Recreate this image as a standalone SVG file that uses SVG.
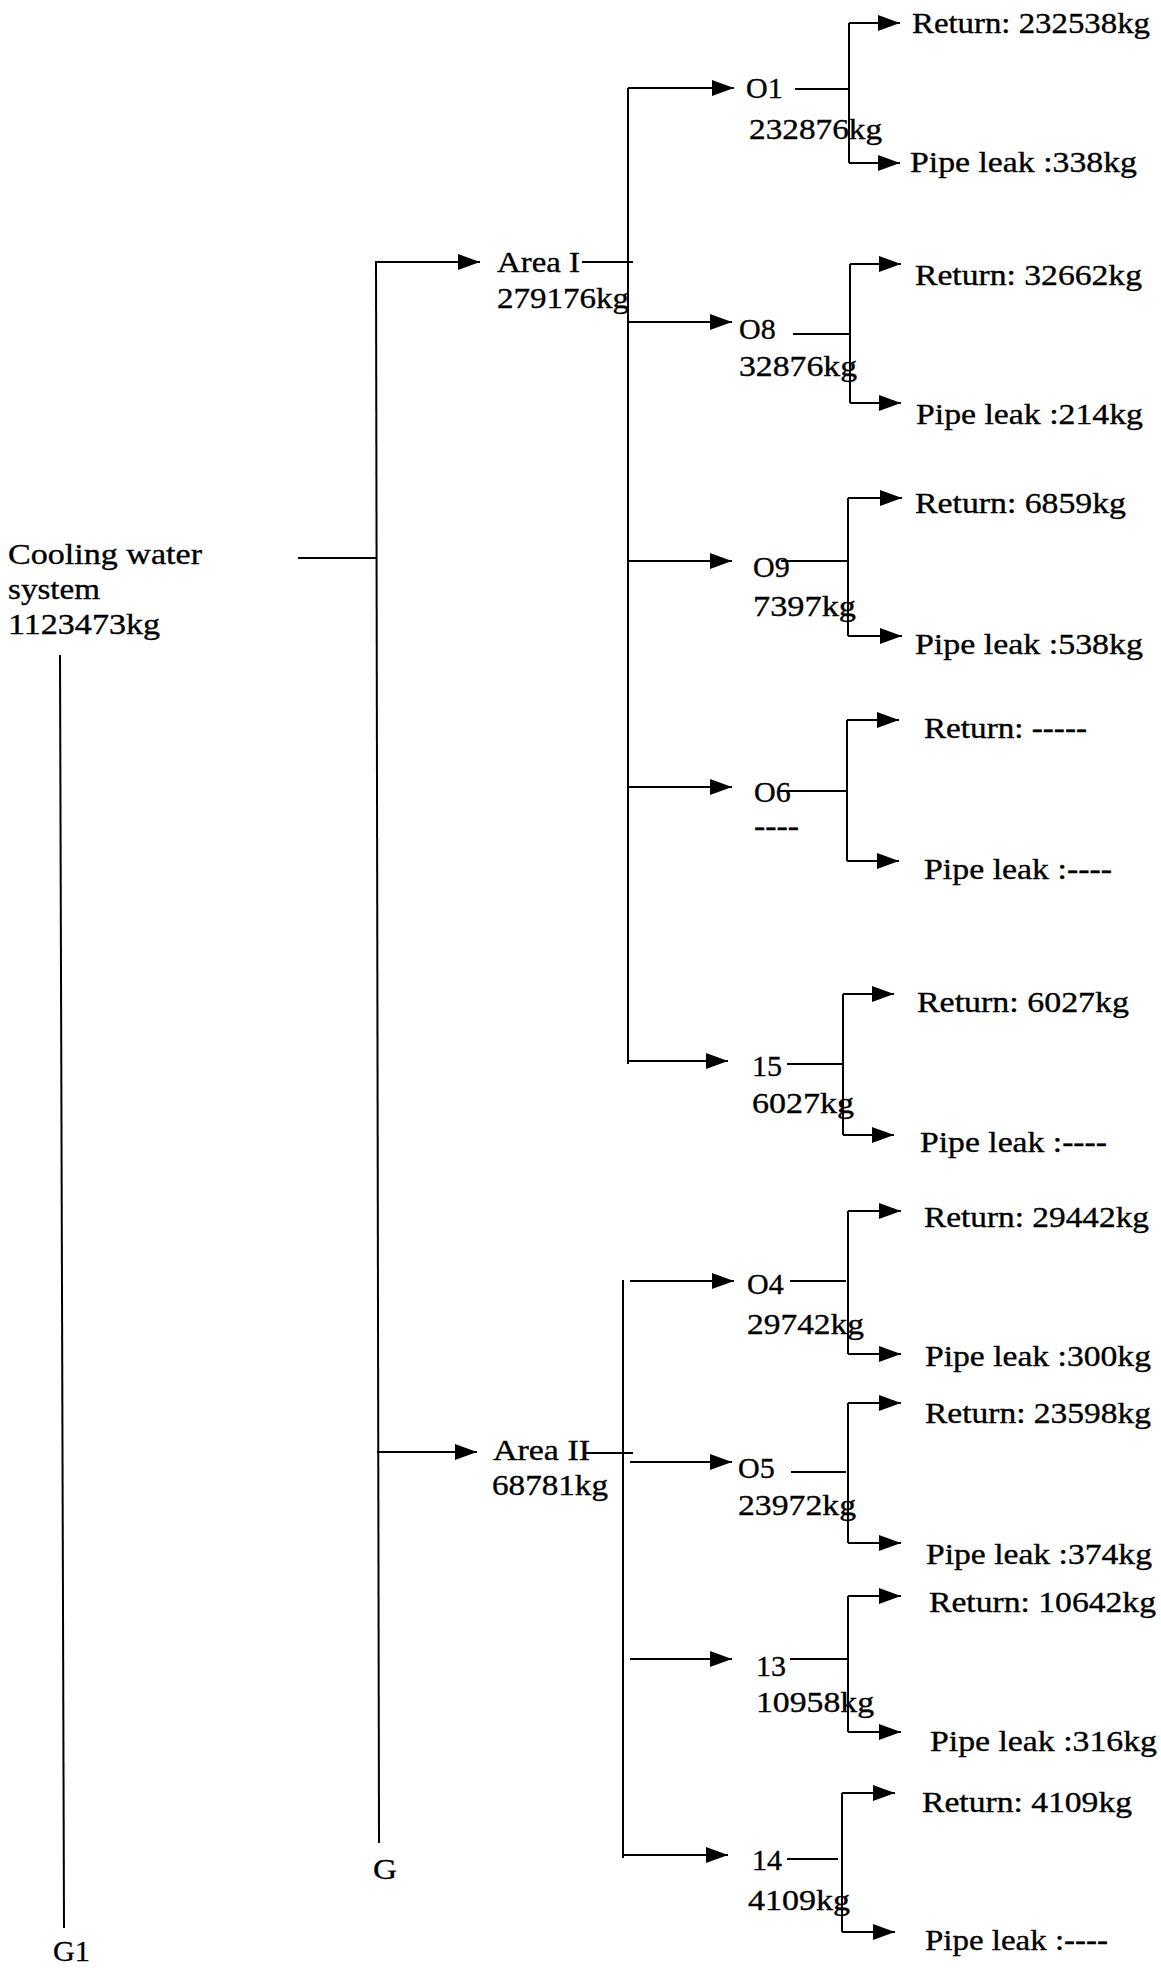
<svg xmlns="http://www.w3.org/2000/svg" width="1161" height="1968" viewBox="0 0 1161 1968">
<style>
.t{font-family:"Liberation Serif","Times New Roman",serif;font-size:30px;fill:#000;stroke:#000;stroke-width:0.35}
.c path{fill:none;stroke:#000;stroke-width:2}
.a{marker-end:url(#ah)}
</style>
<defs>
<marker id="ah" markerUnits="userSpaceOnUse" viewBox="0 0 22 16" refX="22" refY="8" markerWidth="22" markerHeight="16" orient="auto">
<path d="M0,0 L22,8 L0,16 z" fill="#000"/>
</marker>
</defs>
<rect width="1161" height="1968" fill="#fff"/>
<g id="connectors" class="c">
<path d="M298,558 H377"/>
<path d="M376,261 L379,1843"/>
<path d="M60,655 L64,1928"/>
<path class="a" d="M377,262 H480"/>
<path d="M582,262 H633"/>
<path d="M628,88 V1064"/>
<path class="a" d="M628,88 H734"/>
<path class="a" d="M628,322 H732"/>
<path class="a" d="M628,561 H732"/>
<path class="a" d="M628,787 H732"/>
<path class="a" d="M628,1061 H728"/>
<path d="M795,89 H849"/>
<path d="M849,23 V163"/>
<path class="a" d="M849,23 H900"/>
<path class="a" d="M849,163 H900"/>
<path d="M793,334 H850"/>
<path d="M850,264 V403"/>
<path class="a" d="M850,264 H901"/>
<path class="a" d="M850,403 H901"/>
<path d="M781,561 H848"/>
<path d="M848,498 V636"/>
<path class="a" d="M848,498 H902"/>
<path class="a" d="M848,636 H902"/>
<path d="M778,791 H847"/>
<path d="M847,720 V861"/>
<path class="a" d="M847,720 H899"/>
<path class="a" d="M847,861 H899"/>
<path d="M787,1064 H843"/>
<path d="M843,994 V1135"/>
<path class="a" d="M843,994 H894"/>
<path class="a" d="M843,1135 H894"/>
<path class="a" d="M377,1452 H477"/>
<path d="M583,1453 H633"/>
<path d="M623,1280 V1858"/>
<path class="a" d="M630,1281 H734"/>
<path class="a" d="M630,1462 H732"/>
<path class="a" d="M630,1659 H732"/>
<path class="a" d="M623,1855 H728"/>
<path d="M790,1281 H846"/>
<path d="M848,1211 V1354"/>
<path class="a" d="M848,1211 H901"/>
<path class="a" d="M848,1354 H901"/>
<path d="M791,1472 H846"/>
<path d="M848,1403 V1543"/>
<path class="a" d="M848,1403 H901"/>
<path class="a" d="M848,1543 H901"/>
<path d="M790,1659 H847"/>
<path d="M848,1596 V1732"/>
<path class="a" d="M848,1596 H901"/>
<path class="a" d="M848,1732 H901"/>
<path d="M787,1859 H838"/>
<path d="M842,1793 V1932"/>
<path class="a" d="M842,1793 H895"/>
<path class="a" d="M842,1932 H895"/>
</g>
<g id="root">
<text class="t" x="8" y="564" textLength="194" lengthAdjust="spacingAndGlyphs">Cooling water</text>
<text class="t" x="8" y="599" textLength="92" lengthAdjust="spacingAndGlyphs">system</text>
<text class="t" x="8" y="634" textLength="152" lengthAdjust="spacingAndGlyphs">1123473kg</text>
</g>
<g id="G"><text class="t" x="373" y="1879" textLength="24" lengthAdjust="spacingAndGlyphs">G</text></g>
<g id="G1"><text class="t" x="53" y="1961" textLength="37" lengthAdjust="spacingAndGlyphs">G1</text></g>
<g id="areaI">
<text class="t" x="497" y="272" textLength="83" lengthAdjust="spacingAndGlyphs">Area I</text>
<text class="t" x="497" y="308" textLength="132" lengthAdjust="spacingAndGlyphs">279176kg</text>
</g>
<g id="areaII">
<text class="t" x="493" y="1460" textLength="97" lengthAdjust="spacingAndGlyphs">Area II</text>
<text class="t" x="492" y="1495" textLength="116" lengthAdjust="spacingAndGlyphs">68781kg</text>
</g>
<g id="O1">
<text class="t" x="746" y="98">O1</text>
<text class="t" x="749" y="139" textLength="133" lengthAdjust="spacingAndGlyphs">232876kg</text>
</g>
<g id="O1-return"><text class="t" x="912" y="33" textLength="238" lengthAdjust="spacingAndGlyphs">Return: 232538kg</text></g>
<g id="O1-leak"><text class="t" x="910" y="172" textLength="227" lengthAdjust="spacingAndGlyphs">Pipe leak :338kg</text></g>
<g id="O8">
<text class="t" x="739" y="339">O8</text>
<text class="t" x="739" y="376" textLength="118" lengthAdjust="spacingAndGlyphs">32876kg</text>
</g>
<g id="O8-return"><text class="t" x="915" y="285" textLength="227" lengthAdjust="spacingAndGlyphs">Return: 32662kg</text></g>
<g id="O8-leak"><text class="t" x="916" y="424" textLength="227" lengthAdjust="spacingAndGlyphs">Pipe leak :214kg</text></g>
<g id="O9">
<text class="t" x="753" y="577">O9</text>
<text class="t" x="753" y="616" textLength="103" lengthAdjust="spacingAndGlyphs">7397kg</text>
</g>
<g id="O9-return"><text class="t" x="915" y="513" textLength="211" lengthAdjust="spacingAndGlyphs">Return: 6859kg</text></g>
<g id="O9-leak"><text class="t" x="915" y="654" textLength="228" lengthAdjust="spacingAndGlyphs">Pipe leak :538kg</text></g>
<g id="O6">
<text class="t" x="754" y="802">O6</text>
<text class="t" x="754" y="836" textLength="45" lengthAdjust="spacingAndGlyphs">----</text>
</g>
<g id="O6-return"><text class="t" x="924" y="738" textLength="163" lengthAdjust="spacingAndGlyphs">Return: -----</text></g>
<g id="O6-leak"><text class="t" x="924" y="879" textLength="188" lengthAdjust="spacingAndGlyphs">Pipe leak :----</text></g>
<g id="n15">
<text class="t" x="752" y="1076">15</text>
<text class="t" x="752" y="1113" textLength="102" lengthAdjust="spacingAndGlyphs">6027kg</text>
</g>
<g id="n15-return"><text class="t" x="917" y="1012" textLength="212" lengthAdjust="spacingAndGlyphs">Return: 6027kg</text></g>
<g id="n15-leak"><text class="t" x="920" y="1152" textLength="187" lengthAdjust="spacingAndGlyphs">Pipe leak :----</text></g>
<g id="O4">
<text class="t" x="747" y="1294">O4</text>
<text class="t" x="747" y="1334" textLength="117" lengthAdjust="spacingAndGlyphs">29742kg</text>
</g>
<g id="O4-return"><text class="t" x="924" y="1227" textLength="225" lengthAdjust="spacingAndGlyphs">Return: 29442kg</text></g>
<g id="O4-leak"><text class="t" x="925" y="1366" textLength="226" lengthAdjust="spacingAndGlyphs">Pipe leak :300kg</text></g>
<g id="O5">
<text class="t" x="738" y="1478">O5</text>
<text class="t" x="738" y="1515" textLength="118" lengthAdjust="spacingAndGlyphs">23972kg</text>
</g>
<g id="O5-return"><text class="t" x="925" y="1423" textLength="226" lengthAdjust="spacingAndGlyphs">Return: 23598kg</text></g>
<g id="O5-leak"><text class="t" x="926" y="1564" textLength="226" lengthAdjust="spacingAndGlyphs">Pipe leak :374kg</text></g>
<g id="n13">
<text class="t" x="756" y="1676">13</text>
<text class="t" x="756" y="1712" textLength="118" lengthAdjust="spacingAndGlyphs">10958kg</text>
</g>
<g id="n13-return"><text class="t" x="929" y="1612" textLength="227" lengthAdjust="spacingAndGlyphs">Return: 10642kg</text></g>
<g id="n13-leak"><text class="t" x="930" y="1751" textLength="227" lengthAdjust="spacingAndGlyphs">Pipe leak :316kg</text></g>
<g id="n14">
<text class="t" x="752" y="1870">14</text>
<text class="t" x="748" y="1910" textLength="102" lengthAdjust="spacingAndGlyphs">4109kg</text>
</g>
<g id="n14-return"><text class="t" x="922" y="1812" textLength="210" lengthAdjust="spacingAndGlyphs">Return: 4109kg</text></g>
<g id="n14-leak"><text class="t" x="925" y="1950" textLength="183" lengthAdjust="spacingAndGlyphs">Pipe leak :----</text></g>
</svg>
